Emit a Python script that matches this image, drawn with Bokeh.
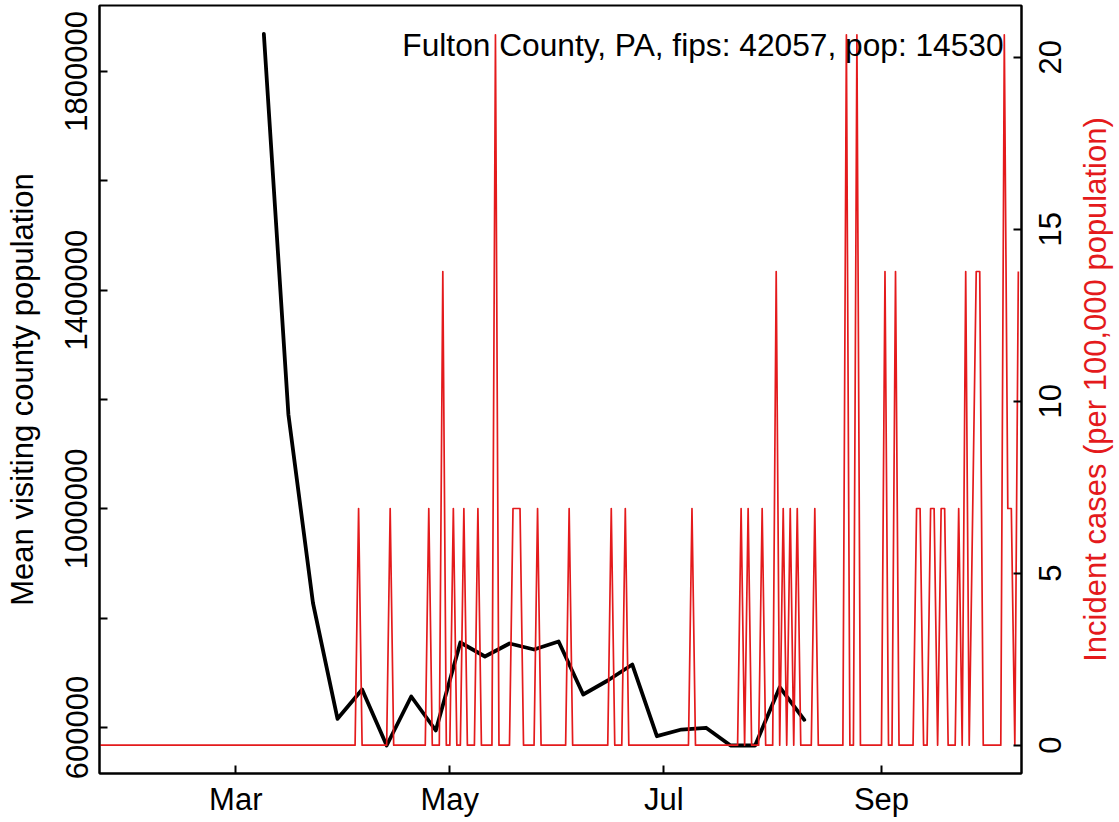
import math
import pandas as pd
from bokeh.plotting import figure
from bokeh.layouts import row
from bokeh.models import (Range1d, LinearAxis, FixedTicker, DatetimeTickFormatter,
                          BasicTickFormatter, CustomJSTickFormatter, Label, ColumnDataSource)
from bokeh.core.properties import value
from bokeh.embed import file_html
from bokeh.resources import INLINE

# ---------------- data ----------------
visit_dates = ["2020-03-09", "2020-03-16", "2020-03-23", "2020-03-30", "2020-04-06",
               "2020-04-13", "2020-04-20", "2020-04-27", "2020-05-04", "2020-05-11",
               "2020-05-18", "2020-05-25", "2020-06-01", "2020-06-08", "2020-06-15",
               "2020-06-22", "2020-06-29", "2020-07-06", "2020-07-13", "2020-07-20",
               "2020-07-27", "2020-08-03", "2020-08-10"]
mean_visiting_pop = [1868800, 1172500, 827700, 615900, 669500,
                     567100, 656700, 594500, 755500, 729900,
                     753600, 742700, 757300, 660400, 686000,
                     715200, 584100, 596300, 599500, 567100,
                     567100, 673700, 614100]

case_first_date = "2020-01-22"
case_last_date = "2020-10-10"
incident_per_100k = [
    0, 0, 0, 0, 0, 0, 0, 0, 0, 0,
    0, 0, 0, 0, 0, 0, 0, 0, 0, 0,
    0, 0, 0, 0, 0, 0, 0, 0, 0, 0,
    0, 0, 0, 0, 0, 0, 0, 0, 0, 0,
    0, 0, 0, 0, 0, 0, 0, 0, 0, 0,
    0, 0, 0, 0, 0, 0, 0, 0, 0, 0,
    0, 0, 0, 0, 0, 0, 0, 0, 0, 0,
    0, 0, 0, 0, 6.88, 0, 0, 0, 0, 0,
    0, 0, 0, 6.88, 0, 0, 0, 0, 0, 0,
    0, 0, 0, 0, 6.88, 0, 0, 0, 13.77, 0,
    0, 6.88, 0, 0, 6.88, 0, 0, 0, 6.88, 0,
    0, 0, 0, 20.65, 0, 0, 0, 0, 6.88, 6.88,
    6.88, 0, 0, 0, 0, 6.88, 0, 0, 0, 0,
    0, 0, 0, 0, 6.88, 0, 0, 0, 0, 0,
    0, 0, 0, 0, 0, 0, 6.88, 0, 0, 0,
    6.88, 0, 0, 0, 0, 0, 0, 0, 0, 0,
    0, 0, 0, 0, 0, 0, 0, 0, 0, 6.88,
    0, 0, 0, 0, 0, 0, 0, 0, 0, 0,
    0, 0, 0, 6.88, 0, 6.88, 0, 0, 0, 6.88,
    0, 0, 0, 13.77, 0, 6.88, 0, 6.88, 0, 6.88,
    0, 0, 0, 0, 6.88, 0, 0, 0, 0, 0,
    0, 0, 0, 20.65, 0, 0, 20.65, 0, 0, 0,
    0, 0, 0, 0, 13.77, 0, 0, 13.77, 0, 0,
    0, 0, 0, 6.88, 6.88, 0, 0, 6.88, 6.88, 0,
    6.88, 6.88, 0, 0, 0, 6.88, 0, 13.77, 0, 6.88,
    13.77, 13.77, 0, 0, 0, 0, 0, 0, 20.65, 6.88,
    6.88, 0, 13.77,
]

county_label = "Fulton County, PA, fips: 42057, pop: 14530"
left_title = "Mean visiting county population"
right_title = "Incident cases (per 100,000 population)"
month_ticks = ["2020-03-01", "2020-05-01", "2020-07-01", "2020-09-01"]
left_ticks = [600000, 1000000, 1400000, 1800000]
left_minor_ticks = [800000, 1200000, 1600000]
right_ticks = [0, 5, 10, 15, 20]

# ---------------- sources ----------------
visit_src = ColumnDataSource(dict(date=pd.to_datetime(visit_dates), pop=mean_visiting_pop))
case_dates = pd.date_range(case_first_date, case_last_date, freq="D")
case_src = ColumnDataSource(dict(date=case_dates, inc=incident_per_100k))
right_lbl_src = ColumnDataSource(dict(y=right_ticks, text=[str(t) for t in right_ticks]))

RED = "#E41A1C"
FONT = "Liberation Sans"
FS = "31px"

day0 = pd.Timestamp(case_first_date)
x_start = day0 + pd.Timedelta(days=0.171)
x_end = day0 + pd.Timedelta(days=262.9)
x_range = Range1d(start=x_start, end=x_end)
y_range = Range1d(start=515866, end=1920538)
right_range = Range1d(start=-0.823, end=21.503)

H = 822
MAIN_W = 1025
SIDE_W = 94

p = figure(width=MAIN_W, height=H, x_axis_type="datetime", x_range=x_range, y_range=y_range,
           output_backend="svg", toolbar_location=None, title=None,
           min_border_left=99, min_border_right=4, min_border_top=5, min_border_bottom=49)
p.extra_y_ranges = {"right": right_range}

p.xgrid.visible = False
p.ygrid.visible = False
p.outline_line_color = "black"
p.outline_line_width = 2
p.background_fill_color = "white"
p.border_fill_color = "white"

p.line("date", "pop", source=visit_src, line_color="black", line_width=3.8,
       line_join="round", line_cap="round")
p.line("date", "inc", source=case_src, line_color=RED, line_width=1.7,
       line_join="round", y_range_name="right")

right_axis = LinearAxis(y_range_name="right")
p.add_layout(right_axis, "right")

for ax in [p.xaxis[0], p.yaxis[0], right_axis]:
    ax.axis_line_width = 2
    ax.axis_line_color = "black"
    ax.major_tick_in = 8
    ax.major_tick_out = 0
    ax.major_tick_line_width = 2
    ax.minor_tick_in = 0
    ax.minor_tick_out = 0
    ax.major_label_text_font = FONT
    ax.major_label_text_font_size = FS
    ax.major_label_text_color = "black"
    ax.axis_label_text_font = FONT
    ax.axis_label_text_font_size = FS
    ax.axis_label_text_font_style = "normal"

xa = p.xaxis[0]
xa.ticker = FixedTicker(ticks=[pd.Timestamp(d).timestamp() * 1000 for d in month_ticks])
xa.formatter = DatetimeTickFormatter(milliseconds="%b", seconds="%b", minsec="%b", minutes="%b",
                                     hourmin="%b", hours="%b", days="%b", months="%b", years="%b")
xa.major_label_standoff = 8

ya = p.yaxis[0]
ya.ticker = FixedTicker(ticks=left_ticks, minor_ticks=left_minor_ticks)
ya.formatter = BasicTickFormatter(use_scientific=False)
ya.minor_tick_in = 8
ya.minor_tick_out = 0
ya.minor_tick_line_width = 2
ya.major_label_orientation = "vertical"
ya.major_label_standoff = 12
ya.axis_label = left_title
ya.axis_label_text_color = "black"
ya.axis_label_standoff = 23

# right axis: line + inward ticks here; its rotated (bottom-to-top) texts in a side panel
right_axis.ticker = FixedTicker(ticks=right_ticks)
right_axis.formatter = CustomJSTickFormatter(code="return ''")
right_axis.major_label_standoff = 0

p.add_layout(Label(x=(day0 + pd.Timedelta(days=257.8)).timestamp() * 1000, y=20,
                   y_range_name="right", y_offset=12, text=county_label,
                   text_align="right", text_baseline="alphabetic",
                   text_font=FONT, text_font_size="31.7px", text_color="black"))

# side panel sharing the right-hand scale (pixel-wide x range)
s = figure(width=SIDE_W, height=H, x_range=Range1d(0, SIDE_W), y_range=right_range,
           output_backend="svg", toolbar_location=None, title=None,
           x_axis_location=None, y_axis_location=None,
           min_border_left=0, min_border_right=0, min_border_top=5, min_border_bottom=49)
s.grid.visible = False
s.outline_line_color = None
s.background_fill_color = "white"
s.border_fill_color = "white"

s.text(x=24.7, y="y", text="text", source=right_lbl_src, angle=math.pi / 2,
       text_align="center", text_baseline="alphabetic",
       text_font=value(FONT), text_font_size=value(FS), text_color="black")
s.add_layout(Label(x=69.5, y=(right_range.start + right_range.end) / 2, text=right_title,
                   angle=math.pi / 2, text_align="center", text_baseline="alphabetic",
                   text_font=FONT, text_font_size=FS, text_color=RED))

layout = row(p, s, spacing=0)
open("out.html", "w").write(file_html(layout, INLINE))
